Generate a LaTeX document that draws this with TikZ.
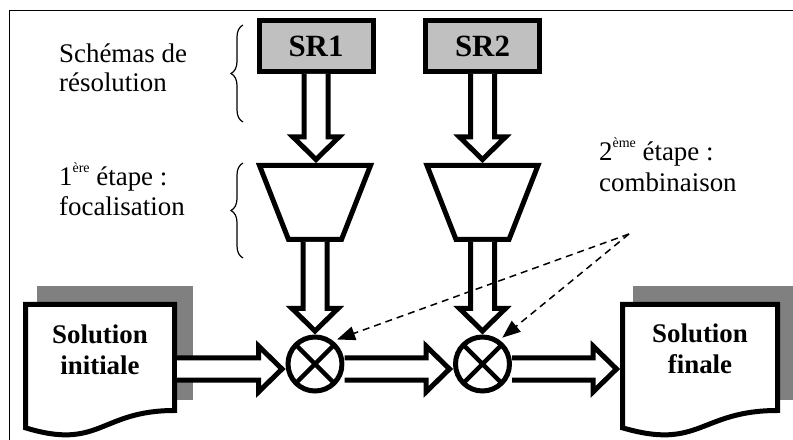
\documentclass[tikz,border=0pt]{standalone}
\usepackage{fontspec}
\setmainfont{Liberation Serif}
\usetikzlibrary{arrows.meta,calc,decorations.pathreplacing}
\definecolor{srgray}{HTML}{C0C0C0}
\definecolor{shadowgray}{HTML}{808080}
\tikzset{
  hollow/.style={draw=black, fill=white, line width=5bp, line join=miter},
  outline/.style={draw=black, fill=white, line width=5bp, line join=miter},
  srbox/.style={draw, fill=srgray, line width=5bp, minimum width=114bp, minimum height=51bp,
    inner sep=0pt, font=\fontsize{31}{31}\selectfont\bfseries},
  combo/.style={circle, draw, fill=white, line width=5bp, minimum size=54bp, inner sep=0pt,
    path picture={\draw[line width=4.5bp]
      (path picture bounding box.north east) -- (path picture bounding box.south west)
      (path picture bounding box.north west) -- (path picture bounding box.south east);}},
  lbl/.style={inner sep=0pt, font=\fontsize{27}{30}\selectfont, anchor=base west},
  doctxt/.style={inner sep=0pt, font=\fontsize{27}{31}\selectfont\bfseries, anchor=base},
  brc/.style={decorate, decoration={brace, amplitude=12bp}, line width=1.2bp},
  hint/.style={dash pattern=on 7bp off 5bp, line width=1.5bp, -{Triangle[length=18bp,width=14bp]}},
  shadowbox/.style={fill=shadowgray, draw=none},
  frameline/.style={line width=1.6bp},
}
\newcommand\hollowdown[2]{%
  \draw[hollow] let \p1=(#1), \p2=(#2) in
   (\x1-12bp,\y1) -- (\x1-12bp,\y2+26bp) -- (\x1-23bp,\y2+26bp) -- (\x1,\y2+3.5bp)
   -- (\x1+23bp,\y2+26bp) -- (\x1+12bp,\y2+26bp) -- (\x1+12bp,\y1);}
\newcommand\hollowright[2]{%
  \draw[hollow] let \p1=(#1), \p2=(#2) in
   (\x1,\y1+11bp) -- (\x2-27bp,\y1+11bp) -- (\x2-27bp,\y1+23bp) -- (\x2-3.5bp,\y1)
   -- (\x2-27bp,\y1-23bp) -- (\x2-27bp,\y1-11bp) -- (\x1,\y1-11bp);}
\begin{document}
\begin{tikzpicture}[x=1bp,y=-1bp]
\useasboundingbox (0,0) rectangle (793,440);
% frame
\draw[frameline] (793,10.5) -- (9.5,10.5) -- (9.5,440);

% resolution schemes
\node[srbox] (sr1) at (316,46) {SR1};
\node[srbox] (sr2) at (482.5,46) {SR2};

% focalisation trapezia
\draw[outline] (259.5,165.5) -- (370.5,165.5) -- (341.5,239.5) -- (288.5,239.5) -- cycle;
\coordinate (t1n) at (315,163);
\coordinate (t1s) at (315,242);
\draw[outline] (427,165.5) -- (538,165.5) -- (509,239.5) -- (456,239.5) -- cycle;
\coordinate (t2n) at (482.5,163);
\coordinate (t2s) at (482.5,242);

% combination operators
\node[combo] (c1) at (315,364) {};
\node[combo] (c2) at (482.5,364) {};

% documents
\fill[shadowbox] (37,286) rectangle (193,400);
\draw[outline] (25.5,304.5) -- (174.5,304.5) -- (174.5,410.5)
  .. controls (100,410.5) and (100,450.7) .. (25.5,427.8) -- cycle;
\coordinate (d1e) at (177,369);
\node[doctxt] (d1a) at (100,344) {Solution};
\node[doctxt] (d1b) at (100,375) {initiale};

\fill[shadowbox] (633,286) rectangle (793,400);
\draw[outline] (622.5,304.5) -- (777.5,304.5) -- (777.5,410.5)
  .. controls (700,410.5) and (700,450.7) .. (622.5,427.8) -- cycle;
\coordinate (d2w) at (620,369);
\node[doctxt] (d2a) at (700,343) {Solution};
\node[doctxt] (d2b) at (700,374) {finale};

% hollow arrows
\hollowdown{sr1.south}{t1n}
\hollowdown{sr2.south}{t2n}
\hollowdown{t1s}{c1.north}
\hollowdown{t2s}{c2.north}
\hollowright{d1e}{c1.west}
\hollowright{$(c1.east)+(0,5)$}{c2.west}
\hollowright{$(c2.east)+(0,5)$}{d2w}

% labels
\node[lbl] (l1a) at (59,63) {Schémas de};
\node[lbl] (l1b) at (59,92) {résolution};
\node[lbl] (l2a) at (59,186) {1\raisebox{13bp}{\fontsize{14}{14}\selectfont ère} étape :};
\node[lbl] (l2b) at (59,216) {focalisation};
\node[lbl] (l3a) at (599,161) {2\raisebox{13bp}{\fontsize{14}{14}\selectfont ème} étape :};
\node[lbl] (l3b) at (599,192) {combinaison};

% braces
\draw[brc] (243,122) -- (243,25);
\draw[brc] (243,258) -- (243,163);

% dashed hints
\coordinate (hs) at (629,234);
\coordinate (h1) at ($(c1.center)+(48:33bp)$);
\coordinate (h2) at ($(c2.center)+(53:33bp)$);
\draw[hint] (hs) -- (h1);
\draw[hint] (hs) -- (h2);
\end{tikzpicture}
\end{document}
